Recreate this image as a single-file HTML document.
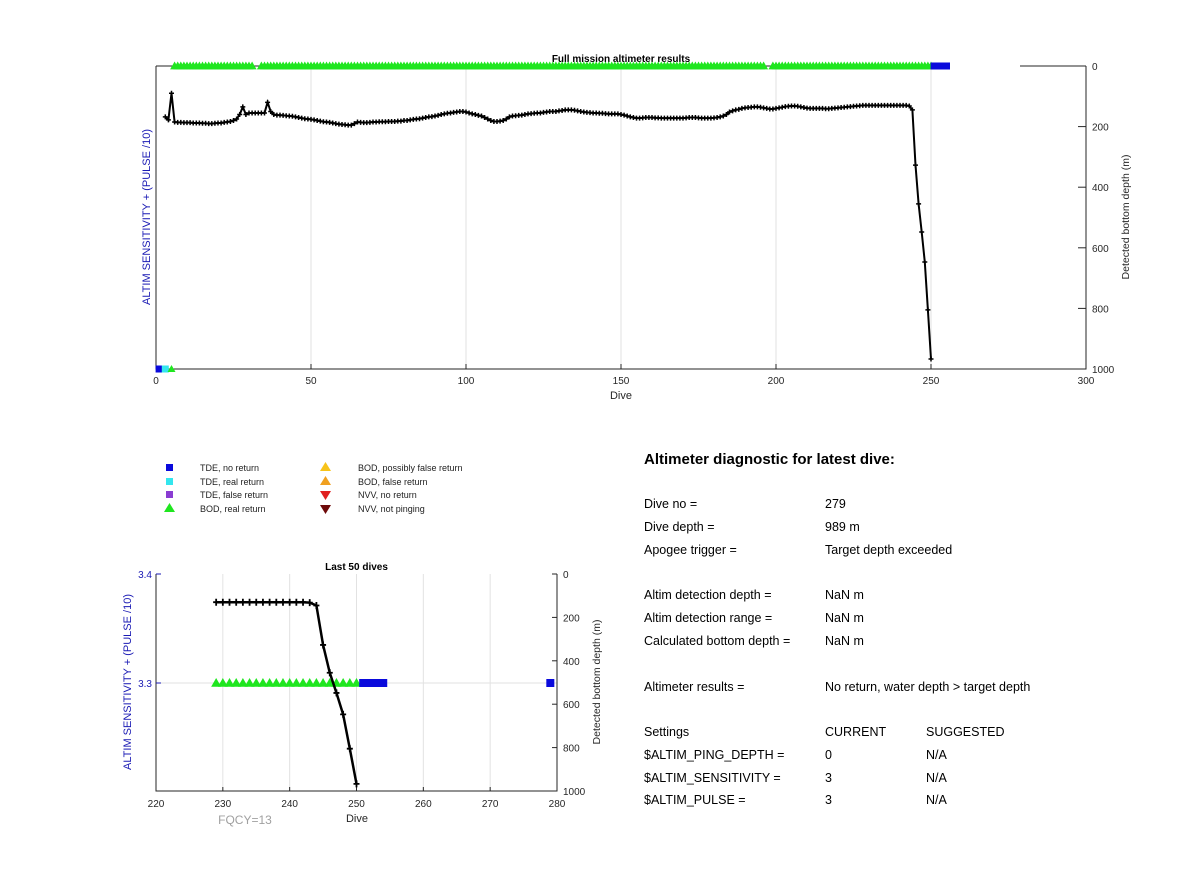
<!DOCTYPE html>
<html><head><meta charset="utf-8"><style>
body{margin:0;background:#fff;}
svg{display:block;font-family:"Liberation Sans",Arial,sans-serif;}
</style></head><body>
<svg id="fig" width="1200" height="889" viewBox="0 0 1200 889" xmlns="http://www.w3.org/2000/svg">
<rect width="1200" height="889" fill="#fff"/>
<g id="top"></g>
<g id="bot"></g>
<g id="legend" font-size="9" fill="#222">
 <rect x="166" y="464" width="7" height="7" fill="#0a0adc"/><text x="200" y="471">TDE, no return</text>
 <rect x="166" y="478" width="7" height="7" fill="#33e6ee"/><text x="200" y="485">TDE, real return</text>
 <rect x="166" y="491" width="7" height="7" fill="#8a3cd2"/><text x="200" y="498">TDE, false return</text>
 <polygon points="169.5,503 164,512 175,512" fill="#1fe61f"/><text x="200" y="512">BOD, real return</text>
 <polygon points="325.5,462 320,471 331,471" fill="#f7c31a"/><text x="358" y="471">BOD, possibly false return</text>
 <polygon points="325.5,476 320,485 331,485" fill="#f0a020"/><text x="358" y="485">BOD, false return</text>
 <polygon points="320,491 331,491 325.5,500" fill="#e02020"/><text x="358" y="498">NVV, no return</text>
 <polygon points="320,505 331,505 325.5,514" fill="#6e0a0a"/><text x="358" y="512">NVV, not pinging</text>
</g>
<g id="diag" font-size="12.5" fill="#000">
 <text x="644" y="464" font-size="15" font-weight="bold">Altimeter diagnostic for latest dive:</text>
 <text x="644" y="508">Dive no =</text><text x="825" y="508">279</text>
 <text x="644" y="531">Dive depth =</text><text x="825" y="531">989 m</text>
 <text x="644" y="554">Apogee trigger =</text><text x="825" y="554">Target depth exceeded</text>
 <text x="644" y="599">Altim detection depth =</text><text x="825" y="599">NaN m</text>
 <text x="644" y="622">Altim detection range =</text><text x="825" y="622">NaN m</text>
 <text x="644" y="645">Calculated bottom depth =</text><text x="825" y="645">NaN m</text>
 <text x="644" y="691">Altimeter results =</text><text x="825" y="691">No return, water depth &gt; target depth</text>
 <text x="644" y="736">Settings</text><text x="825" y="736">CURRENT</text><text x="926" y="736">SUGGESTED</text>
 <text x="644" y="759">$ALTIM_PING_DEPTH =</text><text x="825" y="759">0</text><text x="926" y="759">N/A</text>
 <text x="644" y="782">$ALTIM_SENSITIVITY =</text><text x="825" y="782">3</text><text x="926" y="782">N/A</text>
 <text x="644" y="804">$ALTIM_PULSE =</text><text x="825" y="804">3</text><text x="926" y="804">N/A</text>
</g>
</svg>
<script>
const firstDive = 3;
const depths = [168,178,90,185,186,186,187,187,187,188,
188,188,189,189,190,190,189,188,188,186,
185,183,180,175,160,135,160,155,155,155,
155,155,155,120,150,160,162,162,163,164,
165,166,168,170,172,174,175,176,178,180,
182,184,185,186,188,190,192,193,194,195,
195,190,185,186,187,187,186,185,185,184,
184,184,183,183,183,182,182,180,180,178,
176,175,174,172,170,168,167,165,163,160,
158,156,155,153,152,150,150,152,155,158,
160,163,165,170,175,180,183,183,182,180,
175,168,165,164,163,162,160,158,157,156,
155,155,153,152,150,150,150,148,147,145,
145,145,146,148,150,152,153,154,155,155,
156,156,157,158,158,158,158,160,162,165,
168,170,172,172,171,170,170,170,171,171,
172,172,172,172,172,172,172,172,171,170,
170,170,171,172,172,172,172,171,170,168,
165,160,152,148,145,143,140,138,137,136,
135,135,136,138,140,142,142,140,138,136,
134,133,132,132,133,135,137,139,140,140,
140,140,140,141,141,140,139,138,137,136,
135,134,133,132,131,130,130,130,130,130,
130,130,130,130,130,130,130,130,130,130,
132,145,327,455,548,647,805,967];
const bodStarts = [6,34,199];
const bodEnds = [31,196,250];
const noReturnDives = [251,252,253,254,255];
const lastNoReturnDives = [251,252,253,254,279];
const topXTicks = [0,50,100,150,200,250,300];
const depthTicks = [0,200,400,600,800,1000];
const botXTicks = [220,230,240,250,260,270,280];
const sensTicks = [3.4,3.3];
const sensLevel = 3.3;

const NS='http://www.w3.org/2000/svg';
function mk(parent,tag,attrs){const e=document.createElementNS(NS,tag);for(const k in attrs)e.setAttribute(k,attrs[k]);parent.appendChild(e);return e;}
const bodDives=[];for(let i=0;i<bodStarts.length;i++)for(let d=bodStarts[i];d<=bodEnds[i];d++)bodDives.push(d);

function tri(g,x,y,s,name){const p=mk(g,'polygon',{points:`${x},${y-s} ${x-s},${y+s*0.75} ${x+s},${y+s*0.75}`,fill:'#1fe61f'});

}
function sq(g,x,y,s,col,name){const r=mk(g,'rect',{x:x-s,y:y-s,width:2*s,height:2*s,fill:col});

}
function txt(g,x,y,s,attrs,name){const t=mk(g,'text',Object.assign({x:x,y:y},attrs));t.textContent=s;

return t;}

// ---- Top chart
(function(){
const g=document.getElementById('top');
const L=156,R=1086,T=66,B=369;
const xs=d=>L+(d-0)/300*(R-L), ys=v=>T+v/1000*(B-T);
topXTicks.slice(1,-1).forEach(v=>{const l=mk(g,'line',{x1:xs(v),x2:xs(v),y1:T,y2:B,stroke:'#e2e2e2'});

});
mk(g,'path',{d:`M${L},${T}V${B}H${R}V${T}M${L},${T}H950M1020,${T}H${R}`,stroke:'#262626',fill:'none','stroke-width':1});
topXTicks.forEach(v=>{mk(g,'line',{x1:xs(v),x2:xs(v),y1:B,y2:B-5,stroke:'#262626'});
txt(g,xs(v),B+15,String(v),{'font-size':10,'text-anchor':'middle',fill:'#262626'},'x-tick-label');});
depthTicks.forEach(v=>{mk(g,'line',{x1:R,x2:R-8,y1:ys(v),y2:ys(v),stroke:'#262626'});
txt(g,R+6,ys(v)+4,String(v),{'font-size':10,fill:'#262626'},'depth-tick-label');});
txt(g,(L+R)/2,399,'Dive',{'font-size':11,'text-anchor':'middle',fill:'#262626'},'x-axis-title');
txt(g,621,62,'Full mission altimeter results',{'font-size':10,'font-weight':'bold','text-anchor':'middle'},'chart-title');
txt(g,0,0,'Detected bottom depth (m)',{'font-size':10.5,'text-anchor':'middle',fill:'#262626',transform:`translate(1129,217) rotate(-90)`},'right-axis-title');
txt(g,0,0,'ALTIM SENSITIVITY + (PULSE /10)',{'font-size':11,'text-anchor':'middle',fill:'#1a1ab4',transform:`translate(150,217) rotate(-90)`},'left-axis-title');
bodDives.forEach(d=>tri(g,xs(d),T,4.5,'bod-marker'));
noReturnDives.forEach(d=>sq(g,xs(d),T,3.5,'#0a0adc','tde-no-return-marker'));
sq(g,xs(1),B,3.5,'#0a0adc','tde-no-return-marker');
sq(g,xs(3),B,3.5,'#33e6ee','tde-real-return-marker');
tri(g,xs(5),B,4,'bod-marker');
const pts=depths.map((v,i)=>[xs(firstDive+i),ys(v)]);
const ln=mk(g,'polyline',{points:pts.map(p=>p.join(',')).join(' '),fill:'none',stroke:'#000','stroke-width':2});


pts.forEach(p=>{const m=mk(g,'path',{d:`M${p[0]-2.5},${p[1]}h5M${p[0]},${p[1]-2.5}v5`,stroke:'#000','stroke-width':1.5});

});
})();

// ---- Bottom chart
(function(){
const g=document.getElementById('bot');
const L=156,R=557,T=574,B=791;
const xs=d=>L+(d-220)/60*(R-L), ys=v=>T+v/1000*(B-T), ss=v=>T+(3.4-v)/0.1*109;
botXTicks.slice(1,-1).forEach(v=>{const l=mk(g,'line',{x1:xs(v),x2:xs(v),y1:T,y2:B,stroke:'#e2e2e2'});

});
const hl=mk(g,'line',{x1:L,x2:R,y1:ss(sensLevel),y2:ss(sensLevel),stroke:'#e2e2e2'});


mk(g,'path',{d:`M${L},${T}V${B}H${R}V${T}`,stroke:'#262626',fill:'none'});
botXTicks.forEach(v=>{mk(g,'line',{x1:xs(v),x2:xs(v),y1:B,y2:B-4,stroke:'#262626'});
txt(g,xs(v),B+16,String(v),{'font-size':10,'text-anchor':'middle',fill:'#262626'},'x-tick-label');});
depthTicks.forEach(v=>{mk(g,'line',{x1:R,x2:R-5,y1:ys(v),y2:ys(v),stroke:'#262626'});
txt(g,R+6,ys(v)+4,String(v),{'font-size':10,fill:'#262626'},'depth-tick-label');});
sensTicks.forEach(v=>{mk(g,'line',{x1:L,x2:L+5,y1:ss(v),y2:ss(v),stroke:'#1a1ab4'});
txt(g,L-4,ss(v)+4,v.toFixed(1),{'font-size':10,'text-anchor':'end',fill:'#1a1ab4'},'sensitivity-tick-label');});
txt(g,(L+R)/2,570,'Last 50 dives',{'font-size':10,'font-weight':'bold','text-anchor':'middle'},'chart-title');
txt(g,357,822,'Dive',{'font-size':11,'text-anchor':'middle',fill:'#262626'},'x-axis-title');
txt(g,245,824,'FQCY=13',{'font-size':12,'text-anchor':'middle',fill:'#a0a0a0'},'fqcy-label');
txt(g,0,0,'Detected bottom depth (m)',{'font-size':10.5,'text-anchor':'middle',fill:'#262626',transform:`translate(600,682) rotate(-90)`},'right-axis-title');
txt(g,0,0,'ALTIM SENSITIVITY + (PULSE /10)',{'font-size':11,'text-anchor':'middle',fill:'#1a1ab4',transform:`translate(131,682) rotate(-90)`},'left-axis-title');
bodDives.filter(d=>d>=229).forEach(d=>tri(g,xs(d),ss(sensLevel),5,'bod-marker'));
lastNoReturnDives.forEach(d=>sq(g,xs(d),ss(sensLevel),4,'#0a0adc','tde-no-return-marker'));
const pts=[];depths.forEach((v,i)=>{const d=firstDive+i;if(d>=229)pts.push([xs(d),ys(v)]);});
const ln=mk(g,'polyline',{points:pts.map(p=>p.join(',')).join(' '),fill:'none',stroke:'#000','stroke-width':2.5});


pts.forEach(p=>{const m=mk(g,'path',{d:`M${p[0]-3},${p[1]}h6M${p[0]},${p[1]-3.5}v7`,stroke:'#000','stroke-width':1.8});

});
})();
</script>
</body></html>
